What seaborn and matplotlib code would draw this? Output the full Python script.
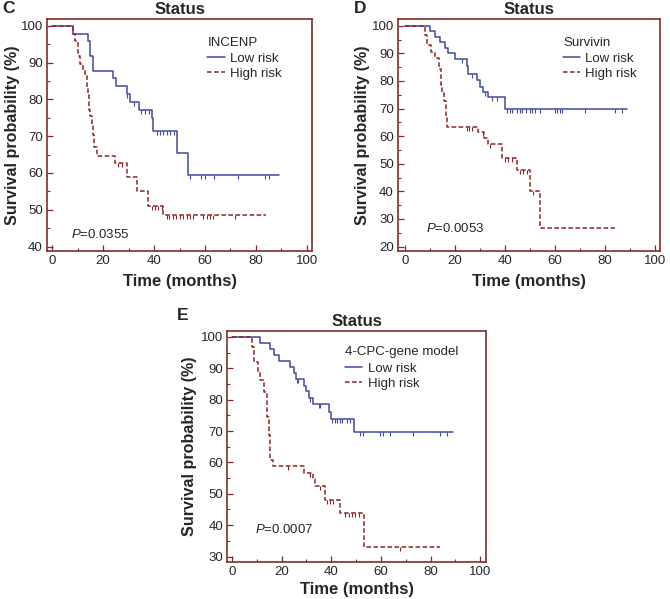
import numpy as np
import seaborn as sns
import matplotlib.pyplot as plt
from matplotlib.ticker import MultipleLocator

# ---- panel C: INCENP ----
c_low_time = [0, 8, 14, 15, 16, 24, 25, 29.2, 30.5, 34, 39, 39.7, 49, 53.2, 89]
c_low_surv = [100, 97.9, 95.9, 91.8, 87.8, 85.7, 83.6, 81.5, 79.4, 77.2, 75.0, 71.4, 65.5, 59.5, 59.5]
c_low_cens = [29.5, 32, 35, 36.5, 38, 41, 42.3, 43.6, 45, 46.2, 48, 54, 58.6, 60, 63.4, 73, 83.7, 85.2]
c_high_time = [0, 8.3, 9, 10, 11, 12, 13, 13.5, 14, 14.5, 15, 15.5, 16, 16.5, 17.4, 24.6, 29.2, 33.2, 37.7, 43.6, 84]
c_high_surv = [100, 97.9, 95.8, 91.7, 89.6, 88.0, 87.0, 83.3, 81.3, 77.1, 75.5, 73.0, 70.3, 67.0, 64.7, 62.7, 59.0, 55.0, 51.0, 48.5, 48.5]
c_high_cens = [26, 27.5, 39, 40.3, 41.7, 43.2, 45, 46, 47.6, 48.6, 50.2, 51.5, 52.8, 54.1, 55.4,
               59.1, 60.7, 61.9, 63.3, 71.8]

# ---- panel D: Survivin ----
d_low_time = [0, 10, 12, 14, 16, 17.3, 20, 24.7, 25.3, 28.7, 30, 31.3, 33.3, 40, 89]
d_low_surv = [100, 98, 96, 94, 92, 90, 88, 85.5, 82.5, 80.3, 78, 76, 74.2, 69.7, 69.7]
d_low_cens = [23, 27, 32, 35, 37, 41, 42, 43, 45, 46, 47, 48.5, 50, 51, 52, 54, 60, 61, 62, 63, 72, 84, 87]
d_high_time = [0, 8, 9, 10.5, 12, 13.5, 14.3, 15, 15.5, 16.3, 17, 29.3, 31.5, 33.3, 38.7, 44.7, 50, 54, 84]
d_high_surv = [100, 96.5, 93, 90.5, 88.2, 84.5, 78.5, 75.5, 72.7, 66.5, 63.5, 61.5, 59.5, 57, 52, 47.8, 40, 26.8, 26.8]
d_high_cens = [24.7, 25.5, 26.7, 31.3, 34, 40, 41.3, 42.7, 46, 47.3, 48.7, 51.3]

# ---- panel E: 4-CPC-gene model ----
e_low_time = [0, 11.5, 15.5, 16.8, 19, 23.5, 25, 26, 29, 30, 31, 32.5, 39, 40, 49, 89]
e_low_surv = [100, 98.1, 96.2, 94.3, 92.4, 90.4, 88.4, 86.5, 84.5, 82.6, 80.6, 78.5, 76.2, 73.9, 69.8, 69.8]
e_low_cens = [26.2, 26.8, 31.5, 35, 35.6, 40.3, 41.6, 42.3, 43.6, 44.3, 46.3, 47.7,
              51.7, 53, 59.7, 61, 63.8, 73, 83.9, 86.6]
e_high_time = [0, 8.1, 9, 10.5, 11.5, 13, 14, 14.3, 15, 15.5, 16.5, 28.9, 32.5, 33.5, 37.6, 43.6, 53.3, 84]
e_high_surv = [100, 96.8, 92, 88.9, 86.2, 82.5, 78.8, 74.5, 68.7, 60.8, 58.8, 56.7, 54.6, 52.5, 48, 44, 33, 33]
e_high_cens = [22.8, 31.5, 35.6, 38.3, 39.6, 40.9, 45.6, 47, 48.3, 49.7, 51, 67.8]

BLUE = '#4349a0'
RED = '#8c2424'
FRAME = '#7f2d2d'
CENS = [(0, 0), (0, -1)]

sns.set_style('ticks')
plt.rcParams['font.family'] = ['Liberation Sans', 'DejaVu Sans']
plt.rcParams['mathtext.fontset'] = 'custom'
plt.rcParams['mathtext.rm'] = 'Liberation Sans'
plt.rcParams['mathtext.it'] = 'Liberation Sans:italic'


def surv_at(times, surv, t):
    idx = np.searchsorted(times, t, side='right') - 1
    return np.asarray(surv)[idx]


def draw_km(ax, low, high, gene, pval, xlim, ylim, ymin_tick, leg_xy, p_xy, xpad=4, ypad=2):
    handles = []
    for (t, s, cens), color, ls, label in [(low, BLUE, '-', 'Low risk'),
                                           (high, RED, (0, (3, 1.6)), 'High risk')]:
        sns.lineplot(x=t, y=s, drawstyle='steps-post', estimator=None, sort=False,
                     color=color, linestyle=ls, lw=1.1, label=label, legend=False, ax=ax)
        handles.append(ax.lines[-1])
        sns.scatterplot(x=cens, y=surv_at(t, s, cens), marker=CENS, s=30, color=color,
                        edgecolor=color, linewidth=0.8, legend=False, ax=ax, zorder=3)

    ax.set_xlim(*xlim)
    ax.set_ylim(*ylim)
    ax.set_xticks(range(0, 101, 20))
    ax.set_yticks(range(ymin_tick, 101, 10))
    ax.xaxis.set_minor_locator(MultipleLocator(10))
    ax.yaxis.set_minor_locator(MultipleLocator(5))
    ax.tick_params(which='both', direction='in', color=FRAME, labelsize=9.5, pad=3)
    ax.tick_params(which='major', length=4, width=0.9)
    ax.tick_params(which='minor', length=2.5, width=0.8)
    for sp in ax.spines.values():
        sp.set_visible(True)
        sp.set_color(FRAME)
        sp.set_linewidth(1.2)

    ax.set_title('Status', fontweight='bold', fontsize=12, pad=4)
    ax.set_xlabel('Time (months)', fontweight='bold', fontsize=12, labelpad=xpad)
    ax.set_ylabel('Survival probability (%)', fontweight='bold', fontsize=11.6, labelpad=ypad)

    leg = ax.legend(handles=handles, labels=['Low risk', 'High risk'], title=gene,
                    loc='upper left', bbox_to_anchor=leg_xy, frameon=False,
                    fontsize=9.5, title_fontsize=9.5, handlelength=1.3,
                    handletextpad=0.4, borderpad=0, borderaxespad=0,
                    labelspacing=0.2, alignment='left')
    leg._legend_box.sep = 3
    ax.text(p_xy[0], p_xy[1], '$P$=' + pval, transform=ax.transAxes,
            fontsize=9.5, va='center', ha='left')


fig = plt.figure(figsize=(6.7, 5.99), dpi=100)
ax_c = fig.add_axes([0.070, 0.581, 0.396, 0.387])
ax_d = fig.add_axes([0.594, 0.581, 0.391, 0.387])
ax_e = fig.add_axes([0.339, 0.062, 0.387, 0.385])

draw_km(ax_c, (c_low_time, c_low_surv, c_low_cens), (c_high_time, c_high_surv, c_high_cens),
        'INCENP', '0.0355', (-2.1, 102.1), (38.8, 101.8), 40, (0.605, 0.925), (0.09, 0.073),
        xpad=5, ypad=0)
draw_km(ax_d, (d_low_time, d_low_surv, d_low_cens), (d_high_time, d_high_surv, d_high_cens),
        'Survivin', '0.0053', (-2.8, 102), (18.4, 102.4), 20, (0.63, 0.925), (0.106, 0.095),
        xpad=5, ypad=1)
draw_km(ax_e, (e_low_time, e_low_surv, e_low_cens), (e_high_time, e_high_surv, e_high_cens),
        '4-CPC-gene model', '0.0007', (-1.9, 102.5), (28.3, 101.8), 30, (0.455, 0.935), (0.108, 0.139),
        xpad=2.5, ypad=3)

fig.text(2 / 670, 1 - 1 / 599, 'C', fontsize=12.5, fontweight='bold', va='top')
fig.text(354 / 670, 1 - 1 / 599, 'D', fontsize=12.5, fontweight='bold', va='top')
fig.text(177 / 670, 1 - 308 / 599, 'E', fontsize=12.5, fontweight='bold', va='top')

fig.savefig('out.png', dpi=100)
